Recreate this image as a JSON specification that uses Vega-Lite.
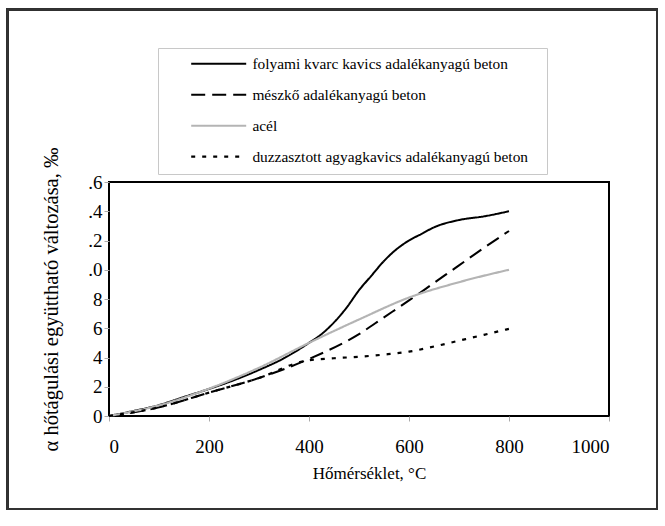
{
  "$schema": "https://vega.github.io/schema/vega-lite/v6.json",
  "width": 500,
  "height": 234,
  "autosize": "none",
  "padding": {"left": 109, "top": 182, "right": 56, "bottom": 110},
  "background": "white",
  "config": {
    "view": {"stroke": "black", "strokeWidth": 2},
    "font": "Liberation Serif",
    "axis": {"labelFont": "Liberation Serif", "titleFont": "Liberation Serif", "labelColor": "black", "titleColor": "black", "titleFontWeight": "normal", "grid": false, "domain": false, "tickColor": "#aaaaaa", "tickSize": 5, "labelOverlap": false},
    "axisY": {"labelOverlap": false}
  },
  "data": {
    "values": [
      {"s": "folyami kvarc kavics adalékanyagú beton", "t": 0, "v": 0},
      {"s": "folyami kvarc kavics adalékanyagú beton", "t": 50, "v": 0.35},
      {"s": "folyami kvarc kavics adalékanyagú beton", "t": 100, "v": 0.75},
      {"s": "folyami kvarc kavics adalékanyagú beton", "t": 150, "v": 1.3},
      {"s": "folyami kvarc kavics adalékanyagú beton", "t": 200, "v": 1.85},
      {"s": "folyami kvarc kavics adalékanyagú beton", "t": 250, "v": 2.45},
      {"s": "folyami kvarc kavics adalékanyagú beton", "t": 300, "v": 3.15},
      {"s": "folyami kvarc kavics adalékanyagú beton", "t": 350, "v": 3.95},
      {"s": "folyami kvarc kavics adalékanyagú beton", "t": 400, "v": 5.0},
      {"s": "folyami kvarc kavics adalékanyagú beton", "t": 425, "v": 5.6},
      {"s": "folyami kvarc kavics adalékanyagú beton", "t": 450, "v": 6.4},
      {"s": "folyami kvarc kavics adalékanyagú beton", "t": 475, "v": 7.4},
      {"s": "folyami kvarc kavics adalékanyagú beton", "t": 500, "v": 8.6},
      {"s": "folyami kvarc kavics adalékanyagú beton", "t": 525, "v": 9.6},
      {"s": "folyami kvarc kavics adalékanyagú beton", "t": 550, "v": 10.6},
      {"s": "folyami kvarc kavics adalékanyagú beton", "t": 575, "v": 11.4},
      {"s": "folyami kvarc kavics adalékanyagú beton", "t": 600, "v": 12.0},
      {"s": "folyami kvarc kavics adalékanyagú beton", "t": 625, "v": 12.45},
      {"s": "folyami kvarc kavics adalékanyagú beton", "t": 650, "v": 12.9},
      {"s": "folyami kvarc kavics adalékanyagú beton", "t": 700, "v": 13.4},
      {"s": "folyami kvarc kavics adalékanyagú beton", "t": 750, "v": 13.65},
      {"s": "folyami kvarc kavics adalékanyagú beton", "t": 800, "v": 14.0},
      {"s": "mészkő adalékanyagú beton", "t": 0, "v": 0},
      {"s": "mészkő adalékanyagú beton", "t": 100, "v": 0.6},
      {"s": "mészkő adalékanyagú beton", "t": 200, "v": 1.6},
      {"s": "mészkő adalékanyagú beton", "t": 300, "v": 2.6},
      {"s": "mészkő adalékanyagú beton", "t": 400, "v": 3.9},
      {"s": "mészkő adalékanyagú beton", "t": 500, "v": 5.6},
      {"s": "mészkő adalékanyagú beton", "t": 550, "v": 6.75},
      {"s": "mészkő adalékanyagú beton", "t": 600, "v": 7.9},
      {"s": "mészkő adalékanyagú beton", "t": 650, "v": 9.1},
      {"s": "mészkő adalékanyagú beton", "t": 700, "v": 10.3},
      {"s": "mészkő adalékanyagú beton", "t": 750, "v": 11.5},
      {"s": "mészkő adalékanyagú beton", "t": 800, "v": 12.65},
      {"s": "acél", "t": 0, "v": 0},
      {"s": "acél", "t": 100, "v": 0.73},
      {"s": "acél", "t": 200, "v": 1.87},
      {"s": "acél", "t": 300, "v": 3.3},
      {"s": "acél", "t": 400, "v": 5.0},
      {"s": "acél", "t": 500, "v": 6.6},
      {"s": "acél", "t": 600, "v": 8.1},
      {"s": "acél", "t": 700, "v": 9.15},
      {"s": "acél", "t": 800, "v": 10.0},
      {"s": "duzzasztott agyagkavics adalékanyagú beton", "t": 0, "v": 0},
      {"s": "duzzasztott agyagkavics adalékanyagú beton", "t": 100, "v": 0.6},
      {"s": "duzzasztott agyagkavics adalékanyagú beton", "t": 200, "v": 1.6},
      {"s": "duzzasztott agyagkavics adalékanyagú beton", "t": 300, "v": 2.6},
      {"s": "duzzasztott agyagkavics adalékanyagú beton", "t": 390, "v": 3.75},
      {"s": "duzzasztott agyagkavics adalékanyagú beton", "t": 450, "v": 3.95},
      {"s": "duzzasztott agyagkavics adalékanyagú beton", "t": 500, "v": 4.05},
      {"s": "duzzasztott agyagkavics adalékanyagú beton", "t": 550, "v": 4.2},
      {"s": "duzzasztott agyagkavics adalékanyagú beton", "t": 600, "v": 4.4},
      {"s": "duzzasztott agyagkavics adalékanyagú beton", "t": 650, "v": 4.75},
      {"s": "duzzasztott agyagkavics adalékanyagú beton", "t": 700, "v": 5.15},
      {"s": "duzzasztott agyagkavics adalékanyagú beton", "t": 750, "v": 5.55},
      {"s": "duzzasztott agyagkavics adalékanyagú beton", "t": 800, "v": 5.96}
    ]
  },
  "layer": [
    {
      "mark": {"type": "line", "interpolate": "monotone"},
      "encoding": {
        "x": {"field": "t", "type": "quantitative", "scale": {"domain": [0, 1000], "nice": false},
          "axis": {"values": [0, 200, 400, 600, 800, 1000], "format": "d", "title": "Hőmérséklet, °C", "labelFontSize": 19, "titleFontSize": 17, "labelPadding": 16, "titlePadding": 9, "titleX": 260, "labelOverlap": false}},
        "y": {"field": "v", "type": "quantitative", "scale": {"domain": [0, 16], "nice": false},
          "axis": {"values": [0, 2, 4, 6, 8, 10, 12, 14, 16], "title": "α hőtágulási együttható változása, ‰", "labelFontSize": 19, "titleFontSize": 20.5, "labelPadding": 2, "titlePadding": 26, "labelOverlap": false, "labelSeparation": -10,
            "labelExpr": "datum.value >= 10 ? '.' + (datum.value - 10) : '' + datum.value"}},
        "color": {"field": "s", "type": "nominal",
          "scale": {"domain": ["folyami kvarc kavics adalékanyagú beton", "mészkő adalékanyagú beton", "acél", "duzzasztott agyagkavics adalékanyagú beton"], "range": ["black", "black", "#b4b4b4", "black"]},
          "legend": {"orient": "none", "legendX": 49, "legendY": -134, "title": "\u00a0\u00a0", "titleOrient": "right", "titleFontSize": 15.5, "titlePadding": 11, "symbolType": "M-5,0H5", "symbolSize": 121, "symbolOffset": 45, "labelFont": "Liberation Serif", "labelFontSize": 15.4, "labelColor": "black", "labelOffset": 26, "labelLimit": 0, "padding": 8, "rowPadding": 14, "strokeColor": "#c8c8c8", "fillColor": "white"}},
        "strokeDash": {"field": "s", "type": "nominal",
          "scale": {"domain": ["folyami kvarc kavics adalékanyagú beton", "mészkő adalékanyagú beton", "acél", "duzzasztott agyagkavics adalékanyagú beton"], "range": [[1, 0], [14, 7], [1, 0], [4, 7]]}},
        "strokeWidth": {"field": "s", "type": "nominal",
          "scale": {"domain": ["folyami kvarc kavics adalékanyagú beton", "mészkő adalékanyagú beton", "acél", "duzzasztott agyagkavics adalékanyagú beton"], "range": [2, 2.2, 1.8, 2.6]}}
      }
    },
    {
      "mark": {"type": "rect", "clip": false, "fill": null, "stroke": "#333333", "strokeWidth": 1.5},
      "encoding": {
        "x": {"datum": -203, "type": "quantitative",
          "axis": {"values": [0, 200, 400, 600, 800, 1000], "format": "d", "title": "Hőmérséklet, °C", "labelFontSize": 19, "titleFontSize": 17, "labelPadding": 16, "titlePadding": 9, "titleX": 260, "labelOverlap": false}},
        "x2": {"datum": 1096},
        "y": {"datum": 27.8, "type": "quantitative",
          "axis": {"values": [0, 2, 4, 6, 8, 10, 12, 14, 16], "title": "α hőtágulási együttható változása, ‰", "labelFontSize": 19, "titleFontSize": 20.5, "labelPadding": 2, "titlePadding": 26, "labelOverlap": false, "labelSeparation": -10,
            "labelExpr": "datum.value >= 10 ? '.' + (datum.value - 10) : '' + datum.value"}},
        "y2": {"datum": -6.36}
      }
    }
  ]
}
